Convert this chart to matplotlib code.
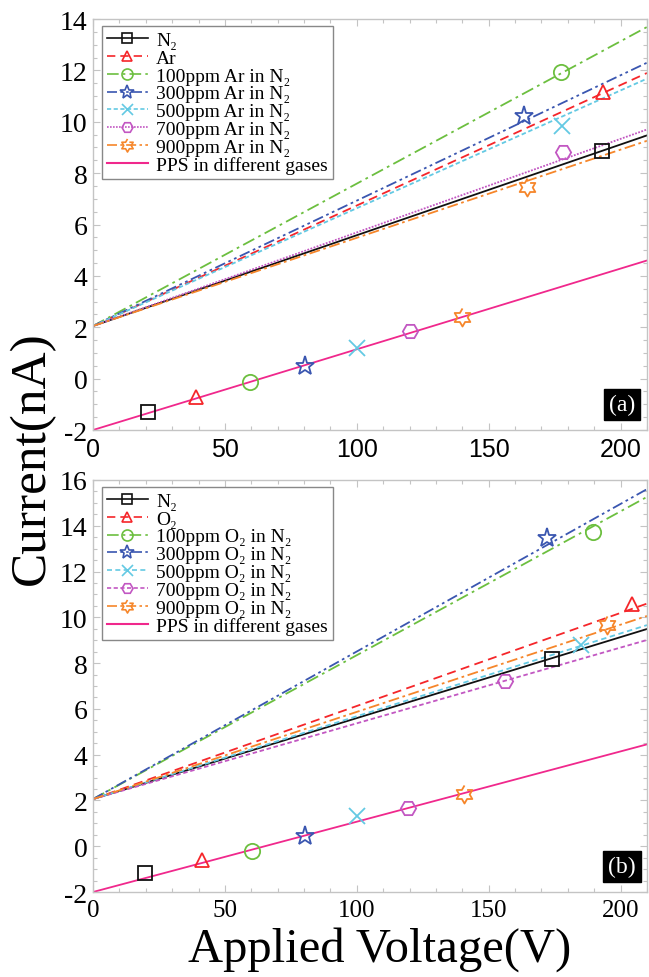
import numpy as np
import matplotlib
matplotlib.use("Agg")
import matplotlib.pyplot as plt
from matplotlib.lines import Line2D
from matplotlib.ticker import MultipleLocator

# ── data ───────────────────────────────────────────────────────────────────────
LABELS_A = ["N₂", "Ar", "100ppm Ar in N₂", "300ppm Ar in N₂",
            "500ppm Ar in N₂", "700ppm Ar in N₂", "900ppm Ar in N₂"]
LABELS_B = ["N₂", "O₂", "100ppm O₂ in N₂", "300ppm O₂ in N₂",
            "500ppm O₂ in N₂", "700ppm O₂ in N₂", "900ppm O₂ in N₂"]
PPS_LABEL = "PPS in different gases"

LINE_X = [0, 210]

# panel (a): upper fitted lines (start / end current)
A_START = [2.05, 2.05, 2.05, 2.05, 2.05, 2.05, 2.05]
A_END = [9.47, 11.9, 13.69, 12.3, 11.68, 9.7, 9.26]
A_MK_X = [192.8, 193.2, 177.3, 163.3, 177.7, 178.0, 164.4]
A_MK_Y = [8.86, 11.16, 11.94, 10.22, 9.83, 8.82, 7.46]
A_PPS_Y = [-2.0, 4.6]
A_PPS_MK_X = [20.8, 39.0, 59.5, 80.3, 100.0, 120.0, 140.0]
A_PPS_MK_Y = [-1.30, -0.72, -0.13, 0.49, 1.19, 1.85, 2.40]

# panel (b)
B_START = [2.06, 2.06, 2.06, 2.06, 2.06, 2.06, 2.06]
B_END = [9.49, 10.6, 15.26, 15.6, 9.66, 9.01, 10.06]
B_MK_X = [173.9, 204.2, 189.4, 172.0, 184.8, 156.0, 195.0]
B_MK_Y = [8.18, 10.58, 13.73, 13.47, 8.79, 7.2, 9.66]
B_PPS_Y = [-2.0, 4.45]
B_PPS_MK_X = [19.7, 41.3, 60.2, 80.3, 100.0, 119.3, 140.5]
B_PPS_MK_Y = [-1.17, -0.6, -0.21, 0.45, 1.32, 1.67, 2.28]

# ── style ──────────────────────────────────────────────────────────────────────
plt.rcParams["font.family"] = ["Liberation Serif", "DejaVu Serif"]
plt.rcParams["axes.unicode_minus"] = False

COLORS = ["#111111", "#f5262a", "#6cbf3f", "#3a56b0", "#63c9e3", "#c257c2", "#f6862a"]
PPS_CLR = "#f0288c"
SPINE_CLR = "#c4c4c4"

# six-pointed star (hexagram) outline
ang = np.deg2rad(90 + 30 * np.arange(12))
rad = np.where(np.arange(12) % 2 == 0, 1.0, 1 / np.sqrt(3))
HEXAGRAM = list(zip(rad * np.cos(ang), rad * np.sin(ang)))

MARKERS = ["s", "^", "o", "*", "x", "H", HEXAGRAM]
MSIZES = [10, 10, 11, 14, 11, 11, 13]

STYLES_A = ["-", (0, (5, 3)), (0, (7, 2.5, 1.5, 2.5)), (0, (6, 2, 1.5, 2, 1.5, 2)),
            (0, (2.5, 1.5)), (0, (1, 0.8)), (0, (6, 2, 1.5, 2))]
STYLES_B = ["-", (0, (5, 3)), (0, (7, 2.5, 1.5, 2.5)), (0, (6, 2, 1.5, 2, 1.5, 2)),
            (0, (3, 2)), (0, (2.5, 1.5)), (0, (6, 2, 1.5, 2))]


def style_ax(ax, sans_xticks):
    ax.set_xlim(0, 210)
    ax.xaxis.set_major_locator(MultipleLocator(50))
    ax.xaxis.set_minor_locator(MultipleLocator(10))
    ax.yaxis.set_major_locator(MultipleLocator(2))
    ax.yaxis.set_minor_locator(MultipleLocator(0.5))
    for sp in ax.spines.values():
        sp.set_edgecolor(SPINE_CLR)
        sp.set_linewidth(1.0)
    ax.tick_params(which="both", direction="in", top=True, right=True,
                   color=SPINE_CLR, width=0.8)
    ax.tick_params(which="major", length=5)
    ax.tick_params(which="minor", length=3)
    ax.tick_params(axis="y", labelsize=20, pad=4)
    ax.tick_params(axis="x", labelsize=18, pad=5)
    if sans_xticks:
        for lbl in ax.get_xticklabels():
            lbl.set_family("Liberation Sans")


def draw_panel(ax, start, end, mk_x, mk_y, pps_y, pps_mk_x, pps_mk_y,
               styles, labels, tag):
    for i in range(7):
        ax.plot(LINE_X, [start[i], end[i]], color=COLORS[i], lw=1.3,
                ls=styles[i], zorder=2)
        ax.plot(mk_x[i], mk_y[i], ls="none", marker=MARKERS[i], ms=MSIZES[i],
                mfc="none", mec=COLORS[i], mew=1.3, zorder=3)
        ax.plot(pps_mk_x[i], pps_mk_y[i], ls="none", marker=MARKERS[i],
                ms=MSIZES[i], mfc="none", mec=COLORS[i], mew=1.3, zorder=3)
    ax.plot(LINE_X, pps_y, color=PPS_CLR, lw=1.3, zorder=2)

    handles = [Line2D([], [], color=COLORS[i], lw=1.2, ls=styles[i],
                      marker=MARKERS[i], ms=MSIZES[i] * 0.72, mfc="none",
                      mec=COLORS[i], mew=1.2) for i in range(7)]
    handles.append(Line2D([], [], color=PPS_CLR, lw=1.5))
    leg = ax.legend(handles, labels + [PPS_LABEL], loc="upper left",
                    bbox_to_anchor=(0.016, 0.982), borderaxespad=0,
                    fontsize=14, labelspacing=0.01, handlelength=2.1,
                    handletextpad=0.45, borderpad=0.25, fancybox=False,
                    framealpha=1, edgecolor="#888888", numpoints=1)
    leg.get_frame().set_linewidth(1.0)

    ax.text(0.955, 0.062, tag, transform=ax.transAxes, ha="center", va="center",
            color="white", fontsize=17,
            bbox=dict(boxstyle="square,pad=0.22", fc="black", ec="black"))


fig = plt.figure(figsize=(6.49, 9.78), dpi=100, facecolor="white")

ax_a = fig.add_axes([0.1433, 0.5593, 0.8536, 0.4202])
draw_panel(ax_a, A_START, A_END, A_MK_X, A_MK_Y, A_PPS_Y, A_PPS_MK_X, A_PPS_MK_Y,
           STYLES_A, LABELS_A, "(a)")
ax_a.set_ylim(-2, 14)
style_ax(ax_a, sans_xticks=True)

ax_b = fig.add_axes([0.1433, 0.0869, 0.8536, 0.4213])
draw_panel(ax_b, B_START, B_END, B_MK_X, B_MK_Y, B_PPS_Y, B_PPS_MK_X, B_PPS_MK_Y,
           STYLES_B, LABELS_B, "(b)")
ax_b.set_ylim(-2, 16)
style_ax(ax_b, sans_xticks=False)

fig.text(0.049, 0.532, "Current(nA)", rotation=90, ha="center", va="center",
         fontsize=37)
fig.text(0.585, 0.029, "Applied Voltage(V)", ha="center", va="center",
         fontsize=35)

fig.savefig("out.png", dpi=100, facecolor="white")
